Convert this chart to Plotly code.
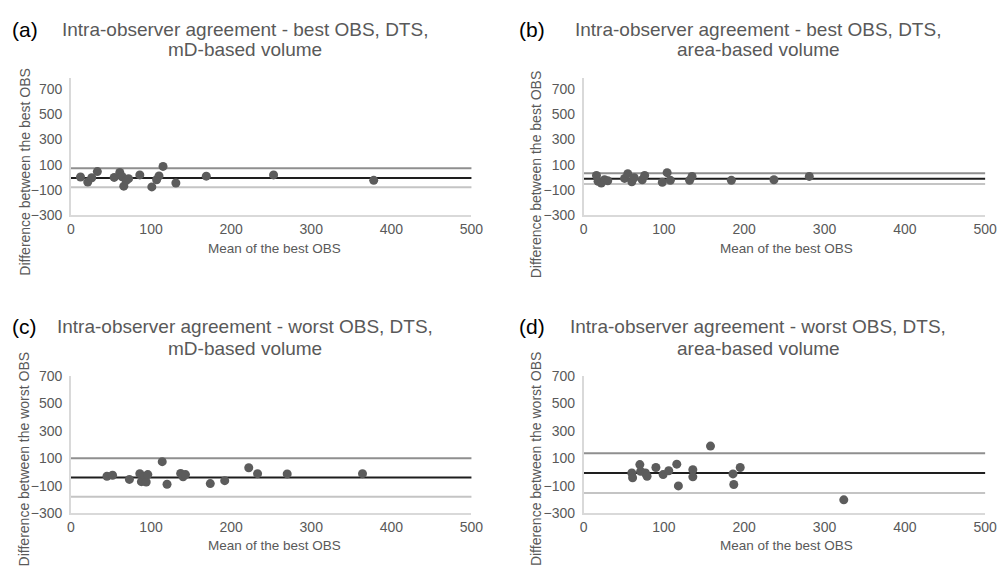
import plotly.graph_objects as go

# ---------------- data ----------------
a_x = [12, 21, 26, 33, 54, 61, 64, 66, 69, 72, 86, 101, 107, 110, 115, 131, 169, 253, 378]
a_y = [3, -37, -3, 46, 0, 40, 5, -69, -24, -10, 20, -75, -18, 12, 87, -44, 10, 20, -23]

b_x = [16, 18, 22, 26, 30, 51, 55, 60, 63, 73, 76, 98, 104, 108, 132, 135, 184, 237, 281]
b_y = [15, -31, -44, -18, -26, -8, 30, -34, -3, -18, 15, -38, 38, -23, -23, 8, -23, -18, 8]

c_x = [45, 52, 73, 86, 88, 92, 94, 96, 114, 120, 137, 140, 143, 174, 192, 222, 233, 270, 364]
c_y = [-30, -23, -53, -11, -69, -30, -72, -18, 76, -88, -9, -34, -18, -83, -62, 32, -11, -13, -11]

d_x = [60, 61, 70, 71, 77, 79, 90, 99, 106, 116, 118, 136, 136, 158, 186, 187, 195, 324]
d_y = [-6, -41, 55, 6, -6, -30, 34, -18, 10, 58, -100, 18, -34, 189, -13, -90, 34, -201]

# bias, upper LoA, lower LoA
a_lines = [-4, 72, -77]
b_lines = [-10, 33, -52]
c_lines = [-39, 100, -178]
d_lines = [-7, 138, -152]

panel_letters = ["(a)", "(b)", "(c)", "(d)"]
title_line1 = [
    "Intra-observer agreement - best OBS, DTS,",
    "Intra-observer agreement - best OBS, DTS,",
    "Intra-observer agreement - worst OBS, DTS,",
    "Intra-observer agreement - worst OBS, DTS,",
]
title_line2 = ["mD-based volume", "area-based volume", "mD-based volume", "area-based volume"]
y_titles = [
    "Difference between the best OBS",
    "Difference between the best OBS",
    "Difference between the worst OBS",
    "Difference between the worst OBS",
]
x_title = "Mean of the best OBS"

# ---------------- layout geometry ----------------
W, H = 1005, 572
FONT = "Liberation Sans, Arial, sans-serif"
GRAY_TXT = "#595959"
MARKER = "#5c5c5c"

panels = [
    dict(xs=a_x, ys=a_y, lines=a_lines, px=(68, 475), py=(72, 213.3), yr=[-300, 787]),
    dict(xs=b_x, ys=b_y, lines=b_lines, px=(589, 997), py=(72, 213.3), yr=[-300, 787]),
    dict(xs=c_x, ys=c_y, lines=c_lines, px=(68, 475), py=(378.3, 520), yr=[-300, 700]),
    dict(xs=d_x, ys=d_y, lines=d_lines, px=(589, 997), py=(378.3, 520), yr=[-300, 700]),
]

fig = go.Figure()
layout = dict(
    width=W, height=H, margin=dict(l=0, r=0, t=0, b=0),
    paper_bgcolor="white", plot_bgcolor="white", showlegend=False,
    font=dict(family=FONT, color=GRAY_TXT, size=13),
)
annotations = []
shapes = []

for i, p in enumerate(panels):
    n = i + 1
    xa = "x" if n == 1 else f"x{n}"
    ya = "y" if n == 1 else f"y{n}"
    xkey = "xaxis" if n == 1 else f"xaxis{n}"
    ykey = "yaxis" if n == 1 else f"yaxis{n}"
    x0, x1 = p["px"]
    ytop, ybot = p["py"]
    layout[xkey] = dict(
        domain=[x0 / W, x1 / W], anchor=ya, range=[0, 500], tick0=0, dtick=100,
        showgrid=False, zeroline=False, showline=True, linecolor="#d9d9d9", linewidth=1.5,
        ticks="", tickfont=dict(size=14, color=GRAY_TXT), ticklabeloverflow="allow",
        fixedrange=True,
    )
    layout[ykey] = dict(
        domain=[(H - ybot) / H, (H - ytop) / H], anchor=xa, range=p["yr"], tick0=-300, dtick=200,
        showgrid=False, zeroline=False, showline=True, linecolor="#d9d9d9", linewidth=1.5,
        ticks="outside", ticklen=4, tickcolor="rgba(0,0,0,0)",
        tickfont=dict(size=14, color=GRAY_TXT), fixedrange=True,
    )
    bias, up, lo = p["lines"]
    for val, col in [(up, "#8f8f8f"), (lo, "#c4c4c4"), (bias, "#1e1e1e")]:
        shapes.append(dict(
            type="line", xref=f"{xa} domain", yref=ya, x0=0, x1=1, y0=val, y1=val,
            line=dict(color=col, width=2), layer="below",
        ))
    fig.add_trace(go.Scatter(
        x=p["xs"], y=p["ys"], mode="markers", xaxis=xa, yaxis=ya,
        marker=dict(color=MARKER, size=9, line=dict(width=0)),
        hoverinfo="x+y",
    ))

# titles & labels (pixel positions from the reference)
title_pos = [(245, 22, 43), (766.7, 22, 43), (245, 328, 350.7), (766.7, 328, 350.7)]
letter_pos = [(21.5, 22), (537, 22), (21, 328), (537, 328)]
ytitle_pos = [(21.7, 168), (540.7, 171), (20.7, 464), (540.7, 464)]
xtitle_pos = [(275, 247), (795, 247), (275, 553), (795, 553)]

for i in range(4):
    tx, ty1, ty2 = title_pos[i]
    annotations.append(dict(text=title_line1[i], x=tx / W, y=1 - ty1 / H, xref="paper", yref="paper",
                            xanchor="center", yanchor="middle", showarrow=False,
                            font=dict(size=19, color=GRAY_TXT, family=FONT)))
    annotations.append(dict(text=title_line2[i], x=tx / W, y=1 - ty2 / H, xref="paper", yref="paper",
                            xanchor="center", yanchor="middle", showarrow=False,
                            font=dict(size=19, color=GRAY_TXT, family=FONT)))
    lx, ly = letter_pos[i]
    annotations.append(dict(text=panel_letters[i], x=lx / W, y=1 - ly / H, xref="paper", yref="paper",
                            xanchor="center", yanchor="middle", showarrow=False,
                            font=dict(size=21, color="black", family=FONT)))
    yx, yy = ytitle_pos[i]
    annotations.append(dict(text=y_titles[i], x=yx / W, y=1 - yy / H, xref="paper", yref="paper",
                            xanchor="center", yanchor="middle", showarrow=False, textangle=-90,
                            font=dict(size=14, color=GRAY_TXT, family=FONT)))
    xx, xy = xtitle_pos[i]
    annotations.append(dict(text=x_title, x=xx / W, y=1 - xy / H, xref="paper", yref="paper",
                            xanchor="center", yanchor="middle", showarrow=False,
                            font=dict(size=13.5, color=GRAY_TXT, family=FONT)))

layout["annotations"] = annotations
layout["shapes"] = shapes
fig.update_layout(**layout)

fig.write_html("out.html", config={"displayModeBar": False})
